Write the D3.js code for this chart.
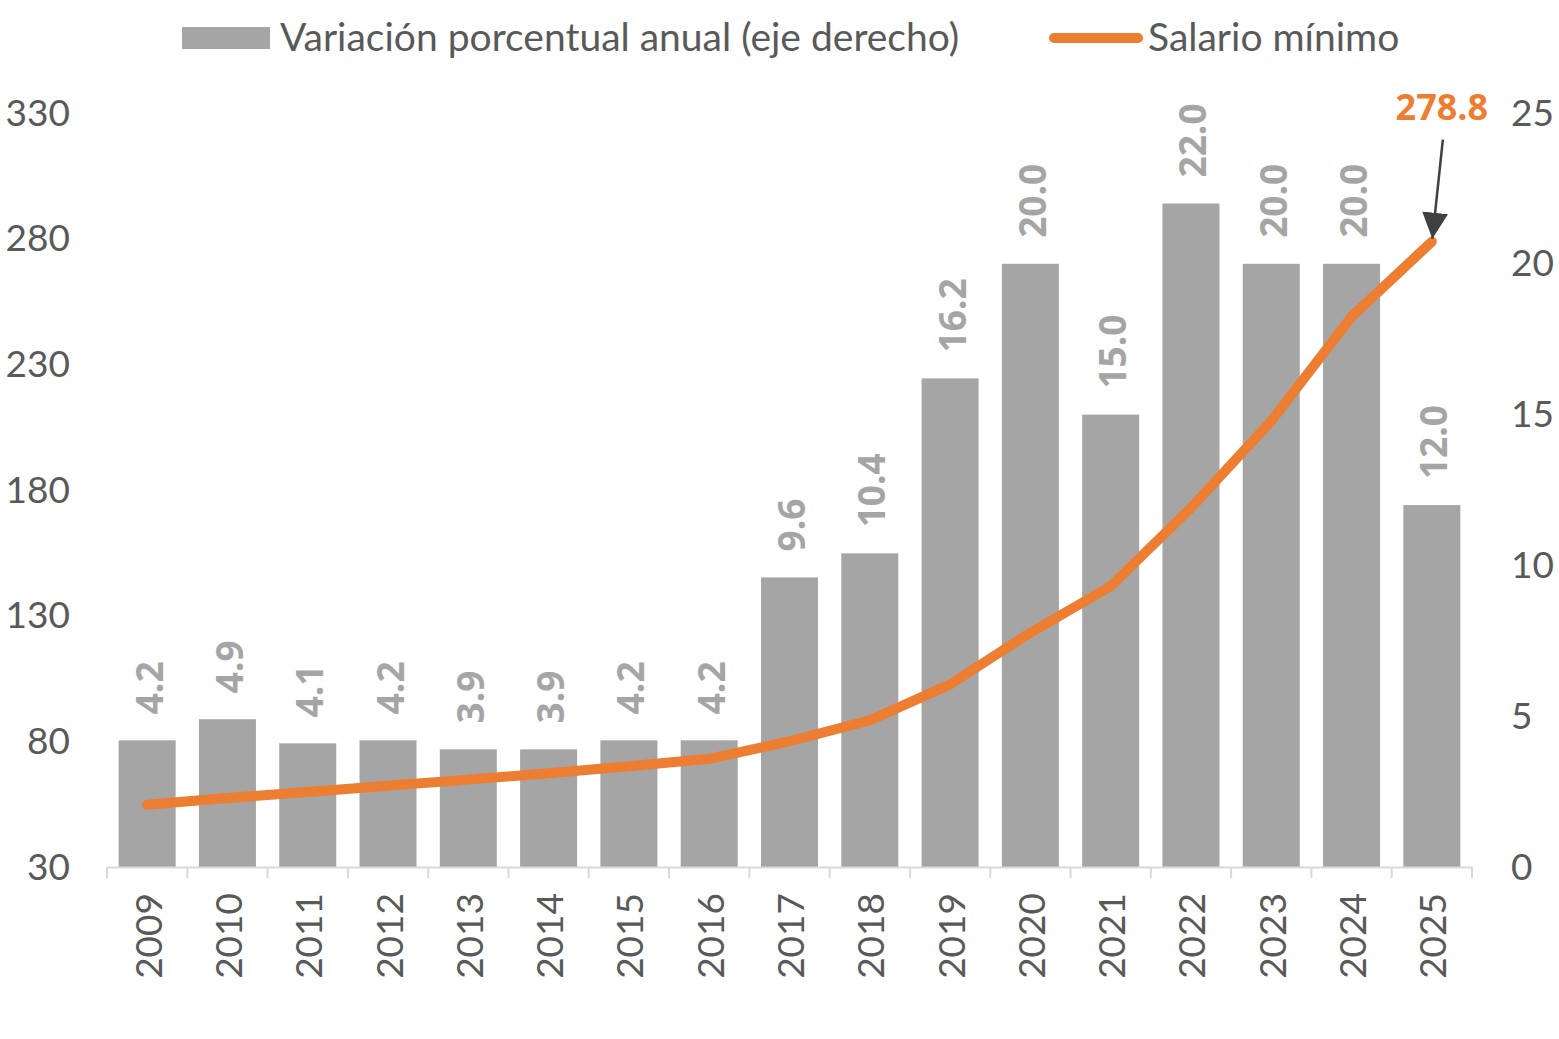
<!DOCTYPE html>
<html><head><meta charset="utf-8">
<script src="https://cdn.jsdelivr.net/npm/d3@7"></script>
<style>
html,body{margin:0;padding:0;background:#fff;}
svg{display:block;font-family:Lato,"Open Sans",sans-serif;}
</style></head>
<body>
<svg id="chart" width="1559" height="1039"></svg>
<script>
const years = ["2009","2010","2011","2012","2013","2014","2015","2016","2017","2018","2019","2020","2021","2022","2023","2024","2025"];
const variacion = [4.2,4.9,4.1,4.2,3.9,3.9,4.2,4.2,9.6,10.4,16.2,20.0,15.0,22.0,20.0,20.0,12.0];
const salario = [54.80,57.46,59.82,62.33,64.76,67.29,70.10,73.04,80.04,88.36,102.68,123.22,141.70,172.87,207.44,248.93,278.80];
const leftTicks = [30,80,130,180,230,280,330];
const rightTicks = [0,5,10,15,20,25];
const legendLabels = ["Variación porcentual anual (eje derecho)","Salario mínimo"];

const svg = d3.select("#chart");
const plotL = 107, plotR = 1472, plotT = 113, plotB = 867;
const gray = "#a5a5a5", orange = "#ED7D31", txt = "#595959";
const boldFont = "'Open Sans', 'Noto Sans', sans-serif";

const x = d3.scaleBand().domain(years).range([plotL, plotR]).paddingInner(0.29).paddingOuter(0.145);
const yL = d3.scaleLinear().domain([30,330]).range([plotB, plotT]);
const yR = d3.scaleLinear().domain([0,25]).range([plotB, plotT]);
const step = x.step();
const cx = d => x(d) + x.bandwidth()/2;

// bars
svg.append("g").selectAll("rect").data(years).join("rect")
  .attr("x", d => x(d)).attr("width", x.bandwidth())
  .attr("y", (d,i) => yR(variacion[i])).attr("height", (d,i) => yR(0) - yR(variacion[i]))
  .attr("fill", gray);

// bar labels
svg.append("g").selectAll("text").data(years).join("text")
  .attr("transform", (d,i) => `translate(${cx(d)+1},${yR(variacion[i]) - 26}) rotate(-90)`)
  .attr("text-anchor","start").attr("dominant-baseline","central")
  .attr("font-family", boldFont)
  .attr("font-size", 37).attr("font-weight","bold").attr("fill", gray)
  .text((d,i) => variacion[i].toFixed(1));

// x axis line and ticks
const ax = svg.append("g");
ax.append("line").attr("x1", plotL).attr("x2", plotR).attr("y1", plotB+0.5).attr("y2", plotB+0.5)
  .attr("stroke","#d9d9d9").attr("stroke-width",2);
ax.selectAll("line.t").data(d3.range(years.length+1)).join("line").attr("class","t")
  .attr("x1", i => plotL + i*step).attr("x2", i => plotL + i*step)
  .attr("y1", plotB).attr("y2", plotB+11).attr("stroke","#d9d9d9").attr("stroke-width",2);
ax.selectAll("text").data(years).join("text")
  .attr("transform", d => `translate(${cx(d)},${plotB+26}) rotate(-90)`)
  .attr("text-anchor","end").attr("dominant-baseline","central")
  .attr("font-size", 37).attr("fill", txt).text(d => d);

// left axis labels
svg.append("g").selectAll("text").data(leftTicks).join("text")
  .attr("x", 70).attr("y", d => yL(d) - 2).attr("text-anchor","end").attr("dominant-baseline","central")
  .attr("font-size", 37).attr("fill", txt).text(d => d);
// right axis labels
svg.append("g").selectAll("text").data(rightTicks).join("text")
  .attr("x", 1511).attr("y", d => yR(d) - 2).attr("text-anchor","start").attr("dominant-baseline","central")
  .attr("font-size", 37).attr("fill", txt).text(d => d);

// line
const line = d3.line().x((d,i) => cx(years[i])).y(d => yL(d));
svg.append("path").datum(salario).attr("d", line).attr("fill","none")
  .attr("stroke", orange).attr("stroke-width", 10).attr("stroke-linecap","round").attr("stroke-linejoin","round");

// annotation
const last = salario.length-1;
const ex = cx(years[last]), ey = yL(salario[last]);
svg.append("defs").append("marker").attr("id","arr").attr("viewBox","0 0 10 10")
  .attr("refX",10).attr("refY",5).attr("markerWidth",26).attr("markerHeight",26).attr("markerUnits","userSpaceOnUse")
  .attr("orient","auto").append("path").attr("d","M0,0 L10,5 L0,10 Z").attr("fill","#404040");
svg.append("line").attr("x1", ex+11).attr("y1", ey-102).attr("x2", ex+0.5).attr("y2", ey-3)
  .attr("stroke","#404040").attr("stroke-width",2.5).attr("marker-end","url(#arr)");
svg.append("text").attr("x", ex+10).attr("y", 120).attr("text-anchor","middle")
  .attr("font-family", boldFont)
  .attr("font-size", 36).attr("font-weight","bold").attr("fill", orange).text(salario[last].toFixed(1));

// legend
const lg = svg.append("g");
lg.append("rect").attr("x",182).attr("y",27).attr("width",88).attr("height",22).attr("fill",gray);
lg.append("text").attr("x",280).attr("y",36).attr("dominant-baseline","central")
  .attr("font-size",39).attr("fill",txt).text(legendLabels[0]);
lg.append("line").attr("x1",1054).attr("x2",1138).attr("y1",38).attr("y2",38)
  .attr("stroke",orange).attr("stroke-width",10).attr("stroke-linecap","round");
lg.append("text").attr("x",1148).attr("y",36).attr("dominant-baseline","central")
  .attr("font-size",39).attr("fill",txt).text(legendLabels[1]);
</script>
</body></html>
